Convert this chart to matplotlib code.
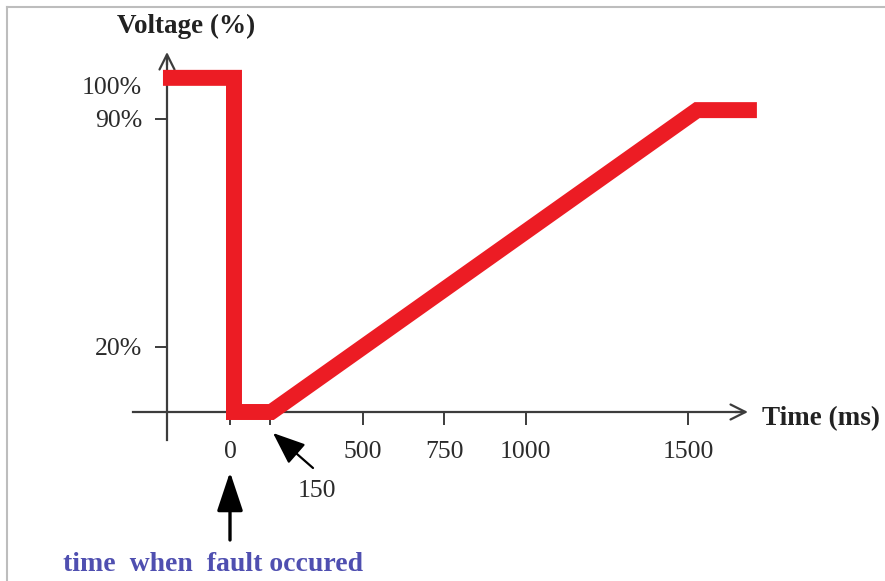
import numpy as np
import matplotlib

matplotlib.use("Agg")
import matplotlib.pyplot as plt
from matplotlib.lines import Line2D

# voltage profile (schematic)
time_ms = [-252, 15, 15, 155, 1528, 1712]
voltage_pct = [102.5, 102.5, 0, 0, 92.6, 92.6]

xtick_vals = [0, 150, 500, 750, 1000, 1500]
xtick_labels = ["0", "", "500", "750", "1000", "1500"]
ytick_vals = [20, 90, 100]
ytick_labels = ["20%", "90%", "100%"]

W, H = 885, 581
RED = "#ec1c24"
AXC = "#3c3c3c"
SERIF = ["Liberation Serif", "DejaVu Serif"]

# the drawing is not to scale: 0-500 ms is squeezed compared to 500-1500 ms
knots_t = np.array([-2000.0, 500.0, 3000.0])
knots_u = np.array([230 - 2000 * 0.266, 363.0, 363 + 2500 * 0.325])


def fwd(t):
    return np.interp(t, knots_t, knots_u)


def inv(u):
    return np.interp(u, knots_u, knots_t)


def px(x, y):
    return x / W, 1 - y / H


fig = plt.figure(figsize=(W / 100, H / 100), dpi=100)
ax = fig.add_axes([0, 0, 1, 1])
ax.set_xscale("function", functions=(fwd, inv))
ax.set_xlim(inv(0), inv(W))
ax.set_ylim((412 - H) / 3.26, 412 / 3.26)
ax.patch.set_visible(False)

yaxis_t = inv(167)
ax.spines["top"].set_visible(False)
ax.spines["right"].set_visible(False)
ax.spines["bottom"].set_position(("data", 0))
ax.spines["left"].set_position(("data", yaxis_t))
ax.spines["bottom"].set_bounds(inv(133), inv(740))
ax.spines["left"].set_bounds((412 - 440) / 3.26, (412 - 60) / 3.26)
for s in ["bottom", "left"]:
    ax.spines[s].set_color(AXC)
    ax.spines[s].set_linewidth(1.6)

# open arrow heads on the axes
ax.annotate("", xy=(inv(748), 0), xytext=(inv(735), 0),
            arrowprops=dict(arrowstyle="->,head_length=0.9,head_width=0.45",
                            color=AXC, lw=1.6, mutation_scale=12,
                            shrinkA=0, shrinkB=0))
ax.annotate("", xy=(yaxis_t, (412 - 52) / 3.26), xytext=(yaxis_t, (412 - 65) / 3.26),
            arrowprops=dict(arrowstyle="->,head_length=0.9,head_width=0.45",
                            color=AXC, lw=1.6, mutation_scale=12,
                            shrinkA=0, shrinkB=0))

ax.set_xticks(xtick_vals)
ax.set_xticklabels(xtick_labels)
ax.set_yticks(ytick_vals)
ax.set_yticklabels(ytick_labels)
ax.minorticks_off()
ax.tick_params(axis="x", direction="out", length=9, width=1.4, color=AXC,
               pad=12, labelsize=18.5, labelcolor="#2b2b2b")
ax.tick_params(axis="y", direction="out", length=9, width=1.4, color=AXC,
               pad=9, labelsize=18.5, labelcolor="#2b2b2b")
for lab in ax.get_xticklabels() + ax.get_yticklabels():
    lab.set_fontfamily(SERIF)
ax.yaxis.get_major_ticks()[2].tick1line.set_visible(False)

ax.plot(time_ms, voltage_pct, color=RED, lw=11.5, solid_joinstyle="miter",
        solid_capstyle="butt", zorder=5)

# annotations
fig.text(*px(186, 33), "Voltage (%)", ha="center", va="baseline",
         fontsize=19.5, fontweight="bold", family=SERIF, color="#222222")
fig.text(*px(762, 425), "Time (ms)", ha="left", va="baseline",
         fontsize=19.5, fontweight="bold", family=SERIF, color="#222222")
fig.text(*px(317, 491), "150", ha="center", va="center",
         fontsize=18.5, family=SERIF, color="#2b2b2b")
fig.text(*px(63, 571), "time  when  fault occured", ha="left", va="baseline",
         fontsize=20, fontweight="bold", family=SERIF, color="#4f4fb0")

ax.annotate("", xy=(inv(273), (412 - 433) / 3.26),
            xytext=(inv(313), (412 - 468) / 3.26),
            arrowprops=dict(arrowstyle="-|>,head_length=2.0,head_width=0.8",
                            color="black", lw=1.6, mutation_scale=10,
                            shrinkA=0, shrinkB=0))
ax.annotate("", xy=(0, (412 - 472) / 3.26), xytext=(0, (412 - 540) / 3.26),
            arrowprops=dict(arrowstyle="-|>,head_length=2.4,head_width=0.8",
                            color="black", lw=2.4, mutation_scale=10,
                            shrinkA=0, shrinkB=0))

# frame of the original screenshot (top and left edges only)
fig.add_artist(Line2D([7 / W, 1], [1 - 7 / H, 1 - 7 / H],
                      transform=fig.transFigure, color="#bdbdbd", lw=1.5))
fig.add_artist(Line2D([7 / W, 7 / W], [0, 1 - 7 / H],
                      transform=fig.transFigure, color="#bdbdbd", lw=1.5))

fig.savefig("out.png", dpi=100)
